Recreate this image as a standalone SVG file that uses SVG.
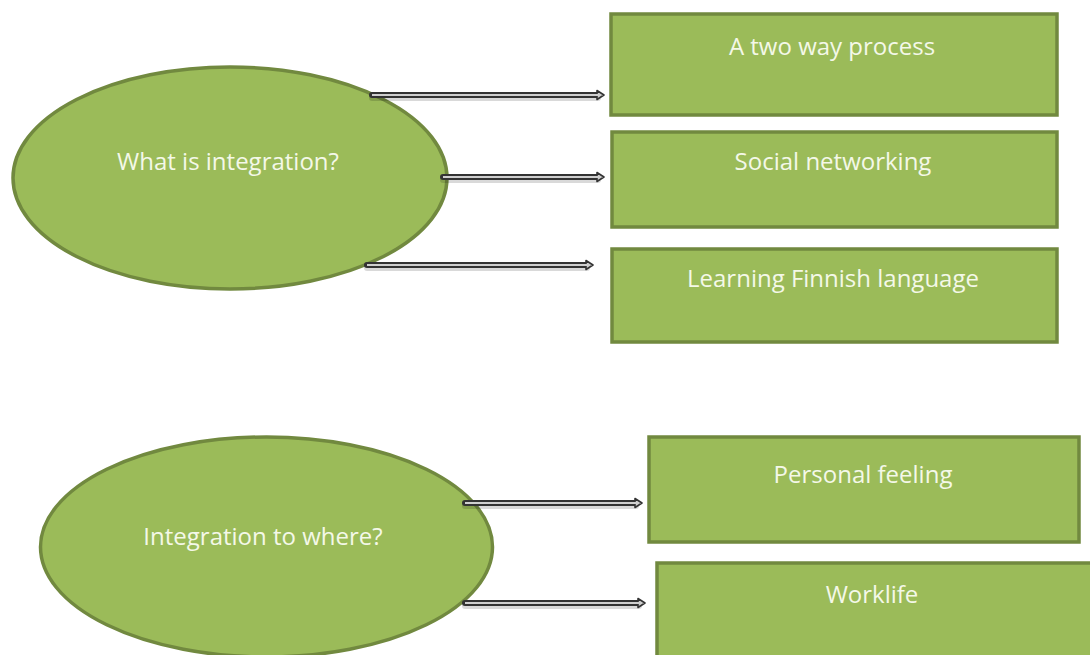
<svg xmlns="http://www.w3.org/2000/svg" width="1090" height="655" viewBox="0 0 1090 655">
<defs>
<style>
.shape{fill:#9bbb59;stroke:#71893f;stroke-width:3.5}
.lbl{font-family:"Open Sans","Liberation Sans",sans-serif;font-size:24px;fill:#f4f8e8;text-anchor:middle}
.shadow{stroke:#000;stroke-opacity:0.15;stroke-width:6;fill:none;stroke-linecap:round}
.outer{stroke:#333333;stroke-width:6;fill:none;stroke-linecap:round}
.inner{stroke:#cfcfcf;stroke-width:2;fill:none}
</style>
<marker id="head" markerUnits="userSpaceOnUse" markerWidth="12" markerHeight="12" refX="1" refY="6" orient="auto" viewBox="0 0 12 12">
<path d="M1,1.5 L8,6 L1,10.5 Z" fill="#cfcfcf" stroke="#333333" stroke-width="1.6" stroke-linejoin="round"/>
</marker>
</defs>
<rect width="1090" height="655" fill="#ffffff"/>
<g id="node-what">
<ellipse class="shape" cx="230" cy="178" rx="217" ry="111"/>
<text class="lbl" x="228" y="170">What is integration?</text>
</g>
<g id="node-where">
<ellipse class="shape" cx="266.5" cy="547" rx="226" ry="110"/>
<text class="lbl" x="263" y="545">Integration to where?</text>
</g>
<g id="node-two-way">
<rect class="shape" x="611" y="14" width="446" height="101"/>
<text class="lbl" x="832" y="55">A two way process</text>
</g>
<g id="node-social">
<rect class="shape" x="612" y="132" width="445" height="95"/>
<text class="lbl" x="833" y="170">Social networking</text>
</g>
<g id="node-finnish">
<rect class="shape" x="612" y="249" width="445" height="93"/>
<text class="lbl" x="833" y="287">Learning Finnish language</text>
</g>
<g id="node-personal">
<rect class="shape" x="649" y="437" width="430" height="105"/>
<text class="lbl" x="863" y="483">Personal feeling</text>
</g>
<g id="node-worklife">
<rect class="shape" x="657" y="563" width="440" height="100"/>
<text class="lbl" x="872" y="603">Worklife</text>
</g>
<g id="connectors">
<path class="shadow" d="M372,98 H598"/>
<path class="outer" d="M372,95 H597" marker-end="url(#head)"/>
<path class="inner" d="M372,95 H598"/>
<path class="shadow" d="M443,180 H598"/>
<path class="outer" d="M443,177 H597" marker-end="url(#head)"/>
<path class="inner" d="M443,177 H598"/>
<path class="shadow" d="M367,268 H587"/>
<path class="outer" d="M367,265 H586" marker-end="url(#head)"/>
<path class="inner" d="M367,265 H587"/>
<path class="shadow" d="M465,506 H636"/>
<path class="outer" d="M465,503 H635" marker-end="url(#head)"/>
<path class="inner" d="M465,503 H636"/>
<path class="shadow" d="M465,606 H639"/>
<path class="outer" d="M465,603 H638" marker-end="url(#head)"/>
<path class="inner" d="M465,603 H639"/>
</g>
</svg>
